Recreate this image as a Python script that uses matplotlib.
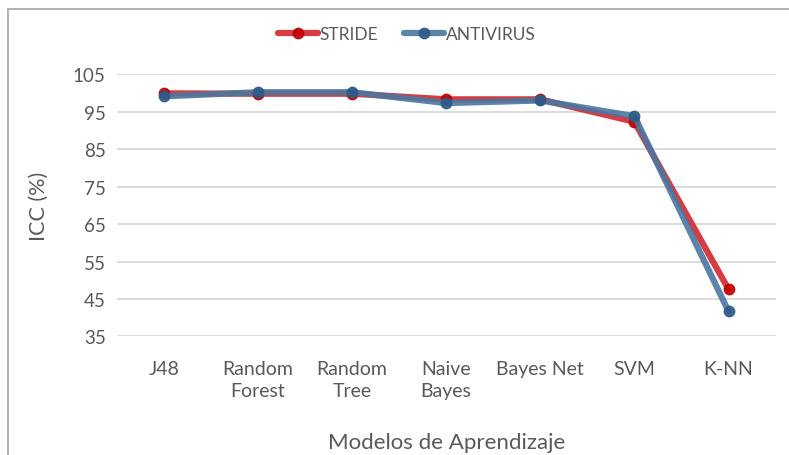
import matplotlib.pyplot as plt
from matplotlib.patches import Rectangle

plt.rcParams['font.family'] = ['Lato', 'DejaVu Sans']

modelos = ['J48', 'Random\nForest', 'Random\nTree', 'Naive\nBayes', 'Bayes Net', 'SVM', 'K-NN']
stride = [99.9, 99.8, 99.8, 98.3, 98.3, 92.3, 47.6]
antivirus = [99.1, 100.2, 100.2, 97.3, 98.0, 93.8, 41.7]
yticks = [35, 45, 55, 65, 75, 85, 95, 105]

fig = plt.figure(figsize=(7.89, 4.56), dpi=100)
ax = fig.add_axes([0.148, 0.26, 0.835, 0.575])

x = range(len(modelos))
ax.plot(x, stride, color='#D1282E', lw=4.5, alpha=0.9, marker='o', ms=7.5,
        mfc='#C00000', mec='#C00000', label='STRIDE', solid_capstyle='round')
ax.plot(x, antivirus, color='#4A76A0', lw=4.5, alpha=0.9, marker='o', ms=7.5,
        mfc='#2C5A88', mec='#2C5A88', label='ANTIVIRUS', solid_capstyle='round')

ax.set_xlim(-0.5, len(modelos) - 0.5)
ax.set_ylim(35, 105)
ax.set_yticks(yticks)
ax.set_xticks(list(x))
ax.set_xticklabels(modelos, linespacing=1.35)
ax.grid(axis='y', color='#D9D9D9', lw=1.3)
ax.set_axisbelow(True)
for s in ax.spines.values():
    s.set_visible(False)
ax.tick_params(length=0, labelsize=13.5, colors='#595959', pad=8)
ax.tick_params(axis='x', labelsize=14, pad=17)

ax.set_ylabel('ICC (%)', fontsize=15.5, color='#595959', labelpad=17)
ax.set_xlabel('Modelos de Aprendizaje', fontsize=16, color='#595959', labelpad=24)

leg = ax.legend(loc='center', bbox_to_anchor=(0.44, 1.155), ncol=2, frameon=False,
                fontsize=12.5, handlelength=2.3, handletextpad=0.1, columnspacing=1.5,
                labelcolor='#595959')

fig.patches.append(Rectangle((8 / 789, -0.01), 1.0, 1 - 10 / 456 + 0.01,
                             transform=fig.transFigure, fill=False,
                             edgecolor='#A6A6A6', lw=1.2))

fig.savefig('out.png', dpi=100)
